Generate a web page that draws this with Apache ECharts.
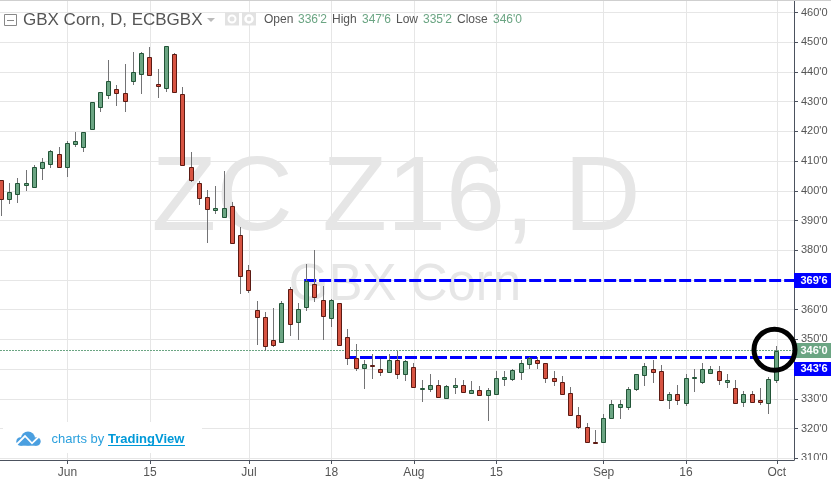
<!DOCTYPE html>
<html>
<head>
<meta charset="utf-8">
<title>GBX Corn, D, ECBGBX</title>
<script src="https://cdn.jsdelivr.net/npm/echarts@6/dist/echarts.min.js"></script>
<style>
  html, body { margin: 0; padding: 0; background: #fff; }
  #chart { width: 831px; height: 479px; }
</style>
</head>
<body>
<div id="chart"></div>
<script>
// daily bars
const opens = [403.5,397.1,398.8,402.05,401.2,407.6,408.9,412.5,407.9,415.9,414.6,420.7,428.3,432.15,434.15,432.8,436.85,439.2,444.95,435.95,434.7,445.95,432.5,407.9,402.5,397.8,393.65,391.3,394.75,385.3,373.2,359.75,357.4,349.65,349.2,366.8,355.9,360.95,368.8,363.1,357.25,362.4,350.65,343.9,340.4,341.3,340.2,339.05,342.9,338.4,340.55,333.35,333.35,334.8,330.3,334.0,334.5,332.0,332.8,331.3,331.65,336.7,336.7,339.05,341.75,342.9,341.9,336.85,335.8,331.8,324.7,320.65,315.6,315.3,323.7,327.4,327.4,333.45,337.85,340.2,339.2,329.75,331.45,328.75,337.05,335.7,338.85,339.2,335.8,333.8,329.05,331.45,329.45,328.75,336.25];
const closes = [397.1,399.5,402.5,402.6,408.2,409.6,413.3,408.1,416.0,416.65,419.7,429.8,433.15,436.85,433.0,430.35,439.9,446.3,439.1,435.4,448.65,433.4,408.55,403.75,397.45,393.95,394.1,394.1,382.6,371.2,366.7,357.6,347.8,348.15,362.4,355.2,360.1,369.75,364.3,357.9,363.1,348.15,343.7,340.4,341.55,340.95,339.05,342.9,338.4,342.6,334.0,333.8,334.8,330.65,334.15,334.5,332.3,332.8,331.3,332.8,336.85,337.2,339.55,341.9,343.7,342.1,337.05,336.05,331.65,324.7,320.55,315.6,315.15,323.7,328.4,328.4,333.15,338.2,340.9,339.05,329.75,331.45,329.75,336.85,337.25,340.2,339.9,336.35,336.2,328.75,331.45,329.05,329.0,336.5,346];
const lows = [391.5,395.7,396.0,400.0,401.2,403.6,407.8,407.8,404.8,414.85,413.05,420.7,426.5,430.9,428.55,426.65,435.75,432.7,438.65,431.25,433.4,433.15,408.55,403.05,395.3,382.5,392.3,390.95,382.6,365.3,365.65,348.05,346.1,347.5,349.2,351.2,349.7,359.5,362.55,349.7,354.1,348.15,341.3,339.3,333.25,336.6,337.6,338.75,336.6,335.9,334.0,328.85,332.25,330.65,329.85,331.55,331.8,331.8,331.0,322.45,331.65,334.25,335.9,336.25,340.0,340.0,335.25,334.25,331.3,324.7,319.85,315.6,314.8,315.3,323.7,323.25,326.15,332.55,334.35,335.35,329.75,326.6,327.85,327.6,332.35,335.15,338.5,334.8,333.65,328.75,327.3,328.75,327.95,324.9,335.25];
const highs = [403.5,402.8,404.2,407.0,408.7,410.9,413.7,414.7,416.7,419.7,419.7,429.8,433.15,444.05,435.6,442.7,446.75,446.6,448.4,441.0,448.65,446.5,434.95,413.05,403.2,400.25,401.6,406.65,396.2,387.7,375.0,362.9,359.2,360.5,362.8,367.8,362.4,375.3,380.05,367.9,363.45,362.4,353.45,348.4,343.0,345.0,343.4,345.0,346.1,343.0,342.0,336.25,338.3,336.25,334.8,336.95,336.25,335.9,334.25,333.5,339.3,339.3,340.0,343.0,344.1,344.1,341.9,339.3,337.6,333.9,327.2,321.9,319.5,324.8,329.55,329.55,333.9,338.5,342.0,343.0,341.3,332.25,334.6,338.2,340.0,342.0,340.95,341.2,338.2,336.25,332.55,332.55,333.6,337.2,347.75];

// x axis ticks: bar number and its label
const xTickBars = [8, 18, 30, 40, 50, 60, 73, 83, 94];
const xTickLabels = ['Jun', '15', 'Jul', '18', 'Aug', '15', 'Sep', '16', 'Oct'];
const yTicks = [310,320,330,340,350,360,370,380,390,400,410,420,430,440,450,460];

const lastPrice = 346;
const upperLevel = 369.75;
const lowerLevel = 343.75;
const upperStartBar = 36.7;
const lowerStartBar = 41.65;
const xMin = -0.18;
const xMax = 96.09;
const yMin = 309.4;
const yMax = 464.25;

const UP = '#6BA583', UP_BORDER = '#225437';
const DOWN = '#D75442', DOWN_BORDER = '#5B1A13';
const WICK = '#737375';
const GRID = '#E6E6E6';
const AXIS = '#4C525E';
const TEXT = '#555555';
const BLUE = '#0000FF';
const FONT = '"Liberation Sans", Arial, sans-serif';

const bars = opens.map((o, i) => [i, o, closes[i], lows[i], highs[i]]);

// custom candles, the wick colour differs from the body border
const renderCandle = (params, api) => {
  const bar = api.value(0);
  const o = api.value(1), c = api.value(2);
  const cx = Math.floor(api.coord([bar, o])[0]) + 0.5;
  const yHigh = Math.round(api.coord([bar, api.value(4)])[1]);
  const yLow = Math.round(api.coord([bar, api.value(3)])[1]);
  const yTop = Math.round(api.coord([bar, Math.max(o, c)])[1]) + 0.5;
  const yBot = Math.round(api.coord([bar, Math.min(o, c)])[1]) + 0.5;
  const rising = c >= o;
  return {
    type: 'group',
    children: [
      {
        type: 'line',
        shape: { x1: cx, y1: yHigh, x2: cx, y2: yLow },
        style: { stroke: WICK, lineWidth: 1 }
      },
      {
        type: 'rect',
        shape: { x: cx - 2, y: yTop, width: 4, height: Math.max(yBot - yTop, 1) },
        style: {
          fill: rising ? UP : DOWN,
          stroke: rising ? UP_BORDER : DOWN_BORDER,
          lineWidth: 1
        }
      }
    ]
  };
};

// horizontal level from a start bar to the right edge, kept on a pixel row
const levelRenderer = (color, width, dash) => (params, api) => {
  const start = api.coord([api.value(0), api.value(1)]);
  const end = api.coord([xMax, api.value(1)]);
  const y = Math.round(start[1]) - 0.5;
  return {
    type: 'line',
    shape: { x1: start[0], y1: y, x2: end[0], y2: y },
    style: { stroke: color, lineWidth: width, lineDash: dash }
  };
};

const label = (text, x, y, font, fill, extra) => ({
  type: 'text',
  silent: true,
  z: 20,
  style: Object.assign({ text, x, y, font: font + ' ' + FONT, fill, verticalAlign: 'middle' }, extra)
});

// header, watermark, price tags, logo
const decorations = [
  { type: 'text', silent: true, z: -1, style: { text: 'ZC Z16, D', x: 396, y: 201, align: 'center', verticalAlign: 'middle', font: '106px ' + FONT, fill: '#E6E6E6' } },
  { type: 'text', silent: true, z: -1, style: { text: 'GBX Corn', x: 405, y: 286, align: 'center', verticalAlign: 'middle', font: '51px ' + FONT, fill: '#E6E6E6' } },
  { type: 'rect', silent: true, z: 20, shape: { x: 0, y: 0, width: 831, height: 1 }, style: { fill: '#CFCFCF' } },

  { type: 'rect', silent: true, z: 20, shape: { x: 4.5, y: 14.5, width: 12, height: 11 }, style: { fill: '#fff', stroke: '#888888', lineWidth: 1 } },
  { type: 'line', silent: true, z: 20, shape: { x1: 7, y1: 20.5, x2: 14, y2: 20.5 }, style: { stroke: '#888888', lineWidth: 1 } },
  label('GBX Corn, D, ECBGBX', 23, 20, '17px', TEXT),
  { type: 'polygon', silent: true, z: 20, shape: { points: [[207, 18], [215, 18], [211, 22]] }, style: { fill: '#BBBBBB' } },
  { type: 'rect', silent: true, z: 20, shape: { x: 225, y: 12.5, width: 14, height: 13 }, style: { fill: '#E2E2E2' } },
  { type: 'circle', silent: true, z: 21, shape: { cx: 232, cy: 19, r: 3.5 }, style: { fill: 'none', stroke: '#fff', lineWidth: 2 } },
  { type: 'rect', silent: true, z: 20, shape: { x: 242, y: 12.5, width: 14, height: 13 }, style: { fill: '#E2E2E2' } },
  { type: 'circle', silent: true, z: 21, shape: { cx: 249, cy: 19, r: 3.5 }, style: { fill: 'none', stroke: '#fff', lineWidth: 2.5 } },
  label('Open', 264, 20, '12px', TEXT),
  label("336'2", 298, 20, '12px', UP),
  label('High', 332, 20, '12px', TEXT),
  label("347'6", 362, 20, '12px', UP),
  label('Low', 396, 20, '12px', TEXT),
  label("335'2", 423, 20, '12px', UP),
  label('Close', 457, 20, '12px', TEXT),
  label("346'0", 493, 20, '12px', UP),

  { type: 'rect', silent: true, z: 20, shape: { x: 3, y: 422, width: 199, height: 31 }, style: { fill: '#fff' } },
  { type: 'circle', silent: true, z: 21, shape: { cx: 28, cy: 438.5, r: 7 }, style: { fill: '#4A9FE0' } },
  { type: 'circle', silent: true, z: 21, shape: { cx: 20.5, cy: 441.5, r: 4.2 }, style: { fill: '#4A9FE0' } },
  { type: 'circle', silent: true, z: 21, shape: { cx: 36.5, cy: 441.5, r: 4.2 }, style: { fill: '#4A9FE0' } },
  { type: 'rect', silent: true, z: 21, shape: { x: 20.5, y: 440, width: 16, height: 5.7 }, style: { fill: '#4A9FE0' } },
  { type: 'polyline', silent: true, z: 22, shape: { points: [[16.5, 444.5], [25, 436], [32, 443.3], [38.5, 437]] }, style: { fill: 'none', stroke: '#fff', lineWidth: 1.8 } },
  label('charts by', 51.5, 439, '13px', '#2BA0DD'),
  label('TradingView', 108, 439, 'bold 13px', '#0099D8'),
  { type: 'line', silent: true, z: 20, shape: { x1: 108, y1: 445.5, x2: 185, y2: 445.5 }, style: { stroke: '#0099D8', lineWidth: 1 } },

  { type: 'rect', silent: true, z: 30, shape: { x: 794, y: 273, width: 37, height: 15 }, style: { fill: BLUE } },
  Object.assign(label("369'6", 814, 281, 'bold 11px', '#fff', { align: 'center' }), { z: 31 }),
  { type: 'rect', silent: true, z: 30, shape: { x: 794, y: 343, width: 37, height: 15 }, style: { fill: UP } },
  Object.assign(label("346'0", 814, 351, 'bold 11px', '#fff', { align: 'center' }), { z: 31 }),
  { type: 'rect', silent: true, z: 30, shape: { x: 794, y: 362, width: 37, height: 14 }, style: { fill: BLUE } },
  Object.assign(label("343'6", 814, 369, 'bold 11px', '#fff', { align: 'center' }), { z: 31 }),

  { type: 'circle', silent: true, z: 40, shape: { cx: 774.5, cy: 349.7, r: 20.5 }, style: { fill: 'none', stroke: '#000', lineWidth: 5 } },
  // the lowest y label is cut by the bottom of the pane
  { type: 'rect', silent: true, z: 40, shape: { x: 795, y: 460, width: 36, height: 19 }, style: { fill: '#fff' } }
];

const chart = echarts.init(document.getElementById('chart'), null, { renderer: 'canvas' });

chart.setOption({
  animation: false,
  backgroundColor: '#fff',
  grid: { left: 0, top: 0, width: 794, height: 460, containLabel: false },
  xAxis: {
    type: 'value',
    min: xMin,
    max: xMax,
    axisLine: { show: true, onZero: false, lineStyle: { color: AXIS, width: 1 } },
    axisTick: { show: true, length: 4, lineStyle: { color: AXIS }, customValues: xTickBars },
    splitLine: { show: true, lineStyle: { color: GRID, width: 1 } },
    axisLabel: {
      customValues: xTickBars,
      color: TEXT,
      fontFamily: FONT,
      fontSize: 12,
      margin: 7,
      formatter: (v) => xTickLabels[xTickBars.indexOf(v)] || ''
    }
  },
  yAxis: {
    type: 'value',
    position: 'right',
    min: yMin,
    max: yMax,
    axisLine: { show: true, onZero: false, lineStyle: { color: AXIS, width: 1 } },
    axisTick: { show: true, length: 4, lineStyle: { color: AXIS }, customValues: yTicks },
    splitLine: { show: true, lineStyle: { color: GRID, width: 1 } },
    axisLabel: {
      customValues: yTicks,
      color: TEXT,
      fontFamily: FONT,
      fontSize: 11,
      margin: 7,
      formatter: (v) => v + "'0"
    }
  },
  graphic: decorations,
  series: [
    {
      name: 'Last price',
      type: 'custom',
      z: 1,
      renderItem: levelRenderer(UP, 1, [2, 1]),
      encode: { x: 0, y: 1 },
      data: [[xMin, lastPrice]]
    },
    {
      name: 'Upper level',
      type: 'custom',
      z: 2,
      renderItem: levelRenderer(BLUE, 3, [12, 3]),
      encode: { x: 0, y: 1 },
      data: [[upperStartBar, upperLevel]]
    },
    {
      name: 'Lower level',
      type: 'custom',
      z: 2,
      renderItem: levelRenderer(BLUE, 3, [12, 3]),
      encode: { x: 0, y: 1 },
      data: [[lowerStartBar, lowerLevel]]
    },
    {
      name: 'ZC Z16',
      type: 'custom',
      z: 3,
      renderItem: renderCandle,
      encode: { x: 0, y: [1, 2, 3, 4] },
      data: bars
    }
  ]
});
</script>
</body>
</html>
